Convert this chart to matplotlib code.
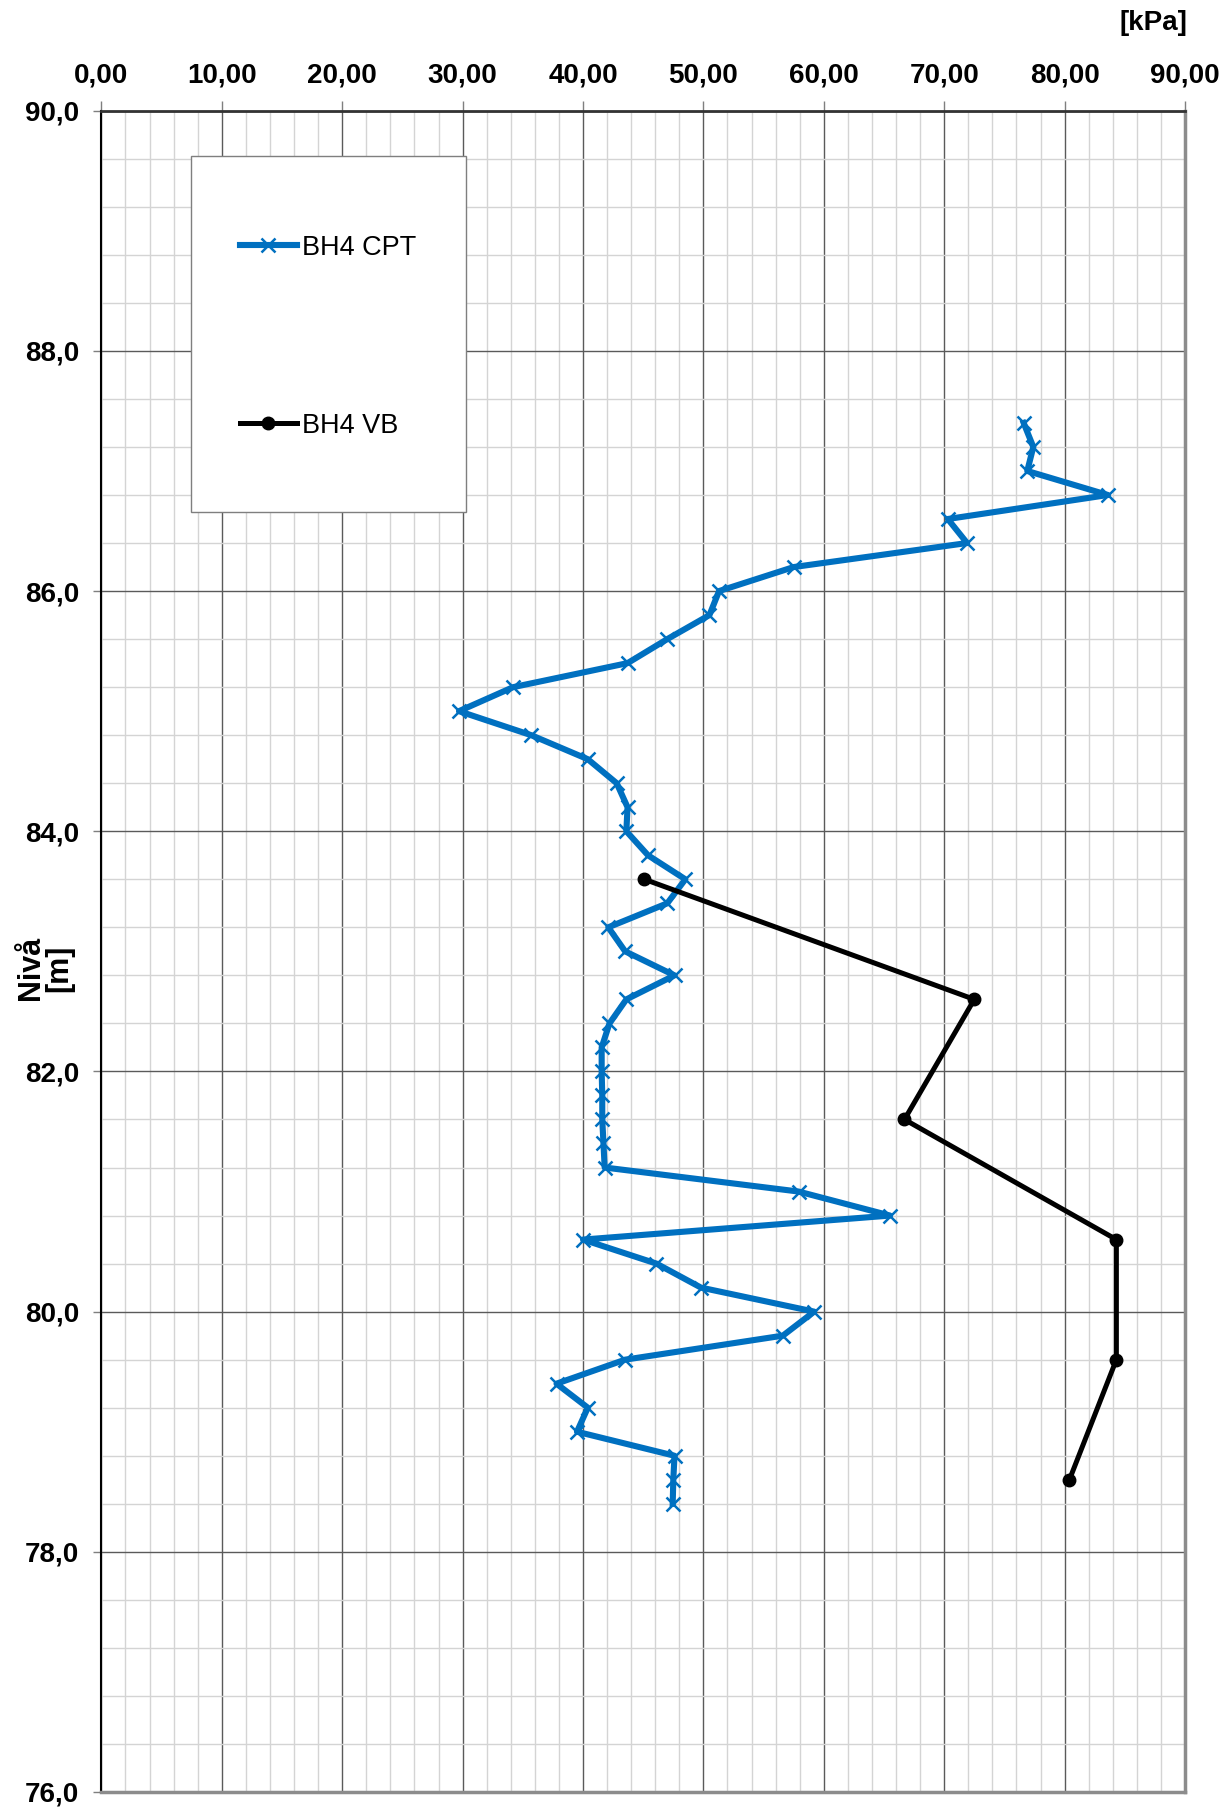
import matplotlib
matplotlib.use("Agg")
import matplotlib.pyplot as plt
from matplotlib.ticker import MultipleLocator, FuncFormatter
from matplotlib.patches import Rectangle

plt.rcParams['font.family'] = ['Liberation Sans', 'DejaVu Sans']

# BH4 CPT
cpt_level = [87.4, 87.2, 87.0, 86.8, 86.6, 86.4, 86.2, 86.0, 85.8, 85.6, 85.4, 85.2,
             85.0, 84.8, 84.6, 84.4, 84.2, 84.0, 83.8, 83.6, 83.4, 83.2, 83.0, 82.8,
             82.6, 82.4, 82.2, 82.0, 81.8, 81.6, 81.4, 81.2, 81.0, 80.8, 80.6, 80.4,
             80.2, 80.0, 79.8, 79.6, 79.4, 79.2, 79.0, 78.8, 78.6, 78.4]
cpt_kpa = [76.6, 77.4, 76.9, 83.6, 70.3, 71.9, 57.5, 51.3, 50.5, 47.0, 43.7, 34.2,
           29.7, 35.7, 40.4, 42.8, 43.7, 43.6, 45.4, 48.5, 47.0, 42.1, 43.5, 47.6,
           43.6, 42.2, 41.55, 41.55, 41.6, 41.6, 41.7, 41.8, 57.9, 65.5, 40.0, 46.1,
           49.8, 59.2, 56.6, 43.5, 37.8, 40.4, 39.5, 47.6, 47.5, 47.45]

# BH4 VB
vb_level = [83.6, 82.6, 81.6, 80.6, 79.6, 78.6]
vb_kpa = [45.1, 72.5, 66.7, 84.3, 84.3, 80.4]

x_ticks = [0, 10, 20, 30, 40, 50, 60, 70, 80, 90]
y_ticks = [76, 78, 80, 82, 84, 86, 88, 90]

W, H = 1223, 1807
AX_L, AX_R, AX_T, AX_B = 101.4, 1185.0, 110.7, 1792.0
fig = plt.figure(figsize=(W / 100, H / 100), dpi=100)
ax = fig.add_axes([AX_L / W, 1 - AX_B / H, (AX_R - AX_L) / W, (AX_B - AX_T) / H])


def ax_frac(px, py):
    return (px - AX_L) / (AX_R - AX_L), 1 - (py - AX_T) / (AX_B - AX_T)


ax.set_xlim(0, 90)
ax.set_ylim(76, 90)
ax.set_xticks(x_ticks)
ax.set_yticks(y_ticks)
ax.xaxis.set_minor_locator(MultipleLocator(2))
ax.yaxis.set_minor_locator(MultipleLocator(0.4))
ax.xaxis.set_major_formatter(FuncFormatter(lambda v, p: f"{v:.2f}".replace('.', ',')))
ax.yaxis.set_major_formatter(FuncFormatter(lambda v, p: f"{v:.1f}".replace('.', ',')))
ax.xaxis.tick_top()

ax.grid(which='minor', color='#d4d4d4', linewidth=1.0, zorder=0)
ax.grid(which='major', color='#5a5a5a', linewidth=1.0, zorder=0)
ax.set_axisbelow(True)

ax.tick_params(axis='x', which='major', top=True, bottom=False, length=7, width=1,
               color='#7f7f7f', pad=9, labelsize=20)
ax.tick_params(axis='y', which='major', left=True, length=6, width=1,
               color='#7f7f7f', pad=10, labelsize=20)
ax.tick_params(which='minor', length=0)
for lab in ax.get_xticklabels() + ax.get_yticklabels():
    lab.set_fontweight('bold')

ax.spines['left'].set_color('#000000')
ax.spines['left'].set_linewidth(1.5)
ax.spines['top'].set_color('#333333')
ax.spines['top'].set_linewidth(2.0)
ax.spines['bottom'].set_color('#8c8c8c')
ax.spines['bottom'].set_linewidth(2.5)
ax.spines['right'].set_color('#8c8c8c')
ax.spines['right'].set_linewidth(2.5)

blue = '#0070C0'
l1, = ax.plot(cpt_kpa, cpt_level, color=blue, linewidth=4.4, marker='x',
              markersize=10, markeredgewidth=1.8, label='BH4 CPT', zorder=3,
              solid_joinstyle='round')
l2, = ax.plot(vb_kpa, vb_level, color='black', linewidth=3.6, marker='o',
              markersize=9, label='BH4 VB', zorder=4, solid_joinstyle='round')

# legend frame
bx0, by0 = ax_frac(190.7, 511.7)
bx1, by1 = ax_frac(466.0, 155.7)
ax.add_patch(Rectangle((bx0, by0), bx1 - bx0, by1 - by0, transform=ax.transAxes,
                       facecolor='white', edgecolor='#7f7f7f', linewidth=1.0, zorder=5))

fs = 19.5
fs_px = fs * 100 / 72
lx, ly = ax_frac(240.0, 248.5 - fs_px * 0.5)
leg = ax.legend(handles=[l1, l2], loc='upper left', bbox_to_anchor=(lx, ly),
                bbox_transform=ax.transAxes, fontsize=fs, frameon=False,
                borderpad=0, borderaxespad=0,
                labelspacing=(423.3 - 244.3 - fs_px) / fs_px,
                handlelength=56.7 / fs_px, handletextpad=5.0 / fs_px)
leg.set_zorder(6)

fig.text(1187 / W, 1 - 23 / H, '[kPa]', ha='right', va='center',
         fontsize=20, fontweight='bold')
fig.text(45 / W, 1 - 968 / H, 'Nivå\n[m]', ha='center', va='center', rotation=90,
         fontsize=22, fontweight='bold', linespacing=0.95)

fig.savefig('out.png', dpi=100)
